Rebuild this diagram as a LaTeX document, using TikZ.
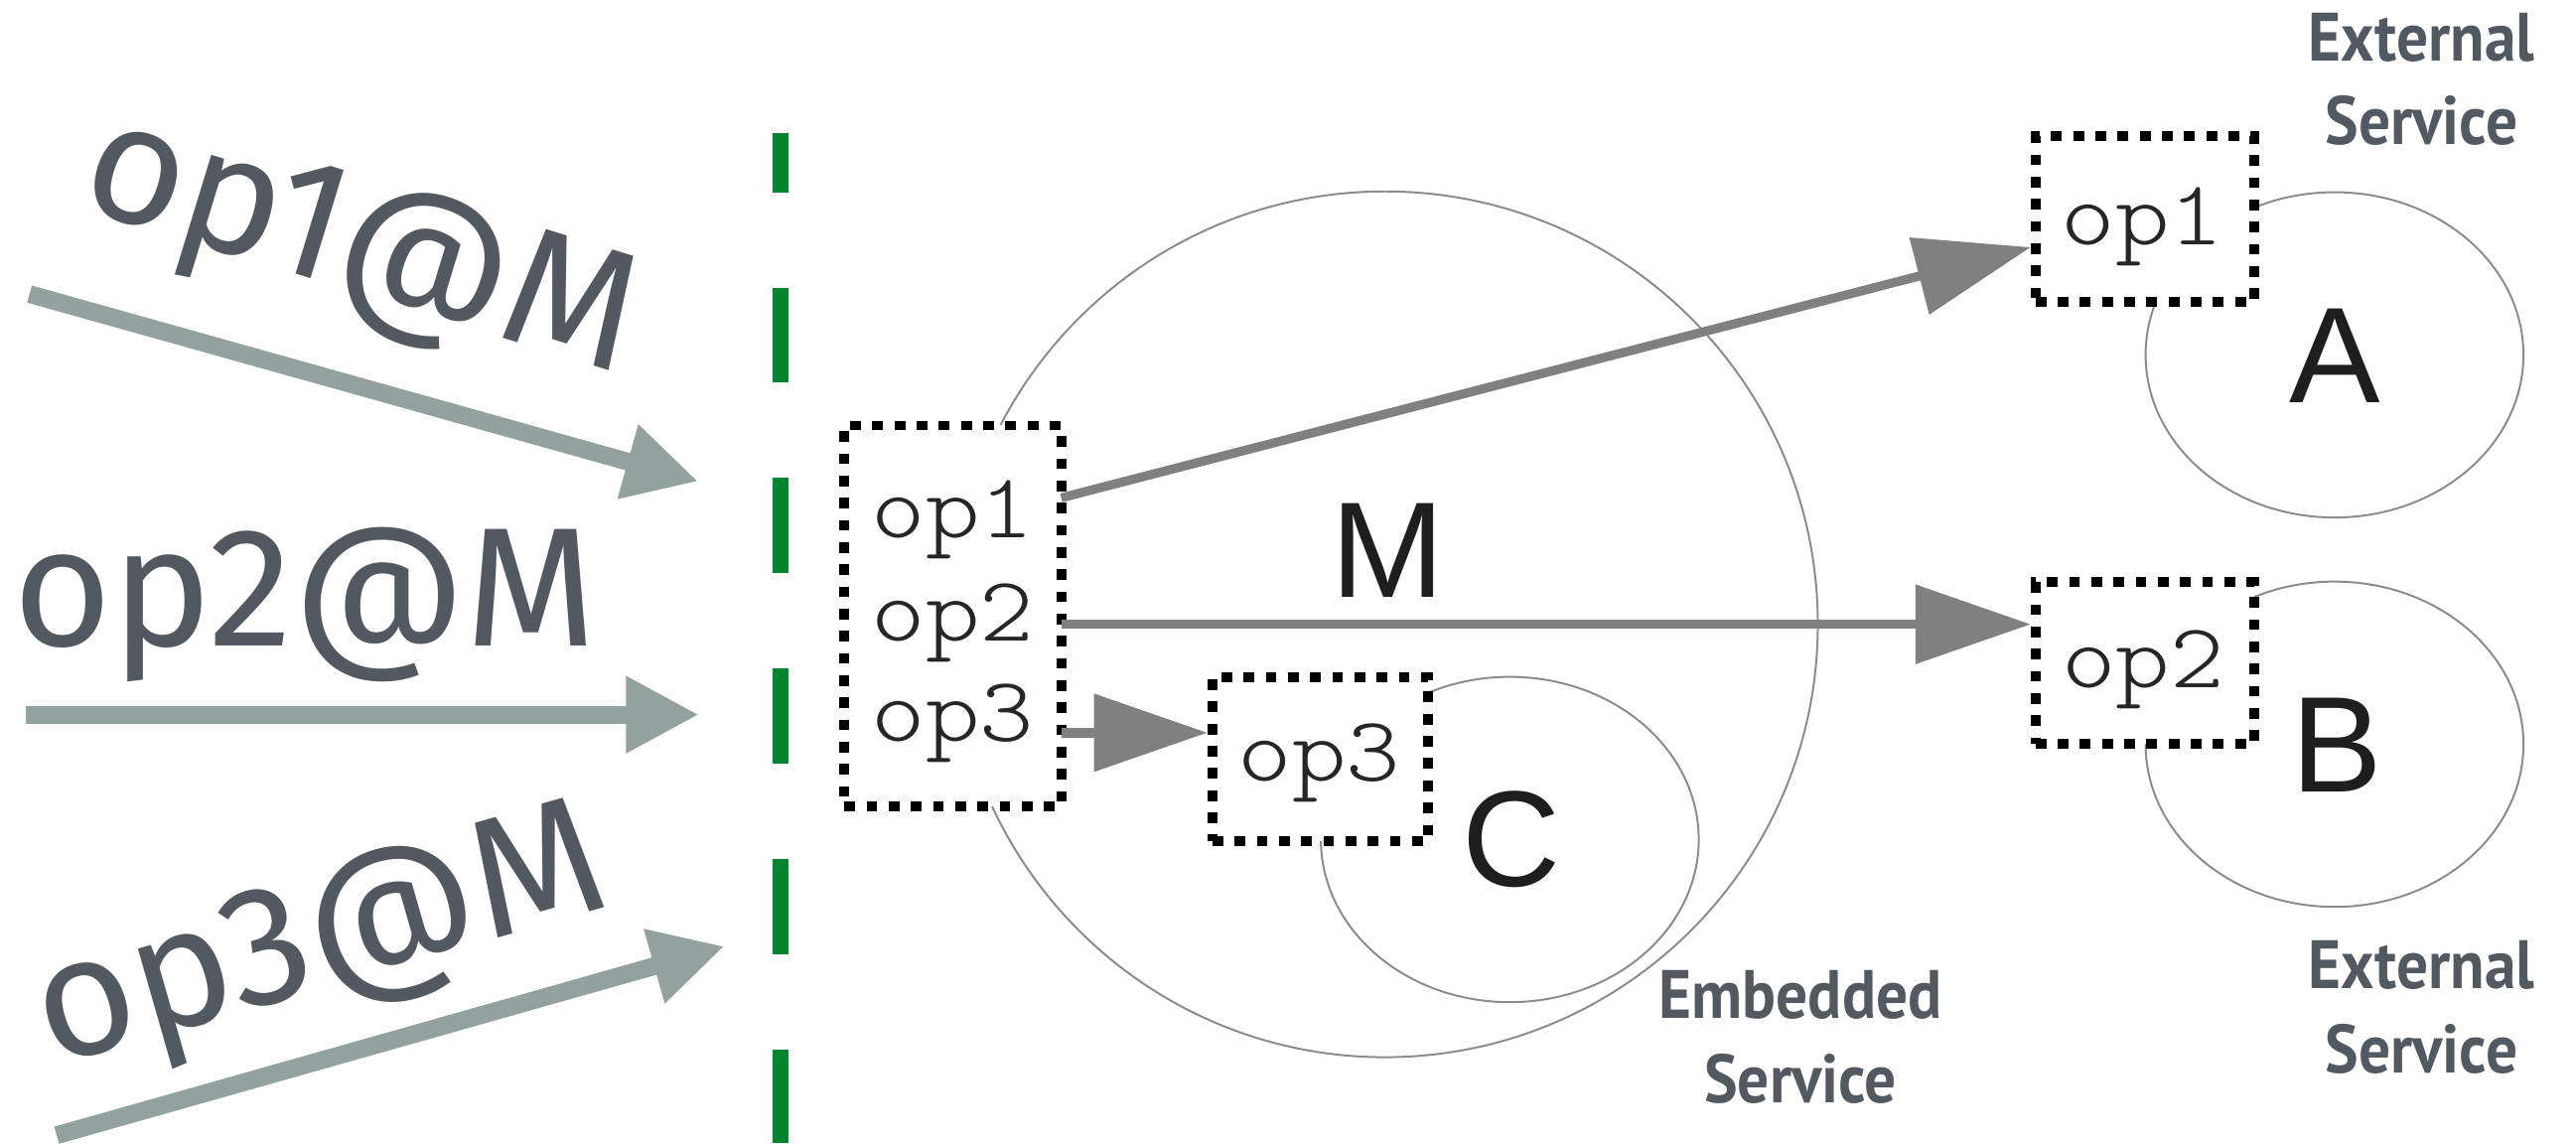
\documentclass[tikz,border=0pt]{standalone}
\usepackage{fontspec}
\usetikzlibrary{arrows.meta,calc}
\setmainfont{Liberation Sans}
\newfontfamily\opfont{Fira Sans}
\newfontfamily\lblfont[FakeStretch=0.92]{PT Sans}
\newfontfamily\courfont[FakeStretch=1.12]{lmmonolt10-regular.otf}
\newfontfamily\letterfont{Liberation Sans}
\definecolor{optext}{RGB}{83,89,96}
\definecolor{inarrow}{RGB}{148,162,159}
\definecolor{gline}{RGB}{0,133,47}
\definecolor{darrow}{RGB}{128,128,128}
\definecolor{letter}{RGB}{30,30,30}
\tikzset{
  opmsg/.style={inner sep=0pt, outer sep=0pt, text=optext, anchor=base west,
    font=\opfont\fontsize{58.6pt}{60pt}\selectfont},
  inarr/.style={draw=inarrow, line width=2.16mm, -{Triangle[length=8.9mm,width=8.8mm]}},
  callarr/.style={draw=darrow, line width=1.1mm, -{Triangle[length=14mm,width=9.4mm]}},
  gdash/.style={draw=gline, line width=1.86mm},
  svc/.style={draw=black!45, line width=0.24mm},
  dotbox/.style={draw=black, fill=white, line width=1.2mm, dash pattern=on 1.3mm off 1.4mm, inner sep=0pt},
  optxt/.style={inner sep=0pt, outer sep=0pt, anchor=base, text=black!85,
    font=\courfont\fontsize{31.9pt}{33pt}\selectfont},
  bigletter/.style={inner sep=0pt, outer sep=0pt, anchor=base, text=letter,
    font=\letterfont\fontsize{47.2pt}{48pt}\selectfont},
  svclabel/.style={inner sep=0pt, outer sep=0pt, anchor=base, text=optext,
    font=\lblfont\bfseries\fontsize{23.7pt}{29pt}\selectfont}
}
\begin{document}
\begin{tikzpicture}[x=0.2mm, y=-0.2mm]
\useasboundingbox (0,0) rectangle (1568,696);
\fill[white] (0,0) rectangle (1568,696);

% service circles
\draw[svc] (843,380) circle [radius=263.5];
\draw[svc] (919,511) ellipse [x radius=115, y radius=99];
\draw[svc] (1421,216) ellipse [x radius=115, y radius=99];
\draw[svc] (1421,453) ellipse [x radius=115, y radius=99];

% green boundary
\foreach \a/\b in {81/117,175/233,291/349,407/465,523/581,639/696}
  \draw[gdash] (475,\a) -- (475,\b);

% incoming messages
\node[opmsg, rotate=-17] (t1) at (46,126) {op1@M};
\node[opmsg] (t2) at (8,393) {op2@M};
\node[opmsg, rotate=16] (t3) at (32,649) {op3@M};
\coordinate (l1s) at (18,179);
\coordinate (l1e) at (425,293);
\coordinate (l2s) at (16,435);
\coordinate (l2e) at (425.5,435);
\coordinate (l3s) at (34.5,691);
\coordinate (l3e) at (441,576);
\draw[inarr] (l1s) -- (l1e);
\draw[inarr] (l2s) -- (l2e);
\draw[inarr] (l3s) -- (l3e);

% boxes
\node[dotbox, minimum width=26.4mm, minimum height=46.4mm] (mbox) at (580,375) {};
\node[dotbox, minimum width=26.3mm, minimum height=20mm] (cbox) at (803.7,462) {};
\node[dotbox, minimum width=26.6mm, minimum height=20.2mm] (abox) at (1305.5,133.5) {};
\node[dotbox, minimum width=26.6mm, minimum height=19.7mm] (bbox) at (1305.5,403.7) {};

\node[optxt] (m1) at (580,327.4) {op1};
\node[optxt] (m2) at (580,390) {op2};
\node[optxt] (m3) at (580,451.4) {op3};
\node[optxt] (cop) at (803,475.5) {op3};
\node[optxt] (aop) at (1304,149) {op1};
\node[optxt] (bop) at (1304.5,418.8) {op2};

% letters
\node[bigletter] (lm) at (845,363.7) {M};
\node[bigletter] (la) at (1421,245) {A};
\node[bigletter] (lb) at (1422.7,482) {B};
\node[bigletter] (lc) at (920,539.5) {C};

% calls
\coordinate (s1) at (646,303);
\coordinate (s2) at (646,380);
\coordinate (s3) at (646,446);
\draw[callarr] (s1) -- ($(abox.west)+(0,17)$);
\draw[callarr] (s2) -- (s2 -| bbox.west);
\draw[callarr, line width=1.2mm, -{Triangle[length=13.8mm,width=9.2mm]}] (s3) -- (s3 -| cbox.west);

% service labels
\node[svclabel] (ext1a) at (1474,37.3) {External};
\node[svclabel] (ext1b) at (1474,87.7) {Service};
\node[svclabel] (ext2a) at (1474,601.7) {External};
\node[svclabel] (ext2b) at (1474,652.9) {Service};
\node[svclabel] (emba) at (1096,619.6) {Embedded};
\node[svclabel] (embb) at (1096,671) {Service};
\end{tikzpicture}
\end{document}
